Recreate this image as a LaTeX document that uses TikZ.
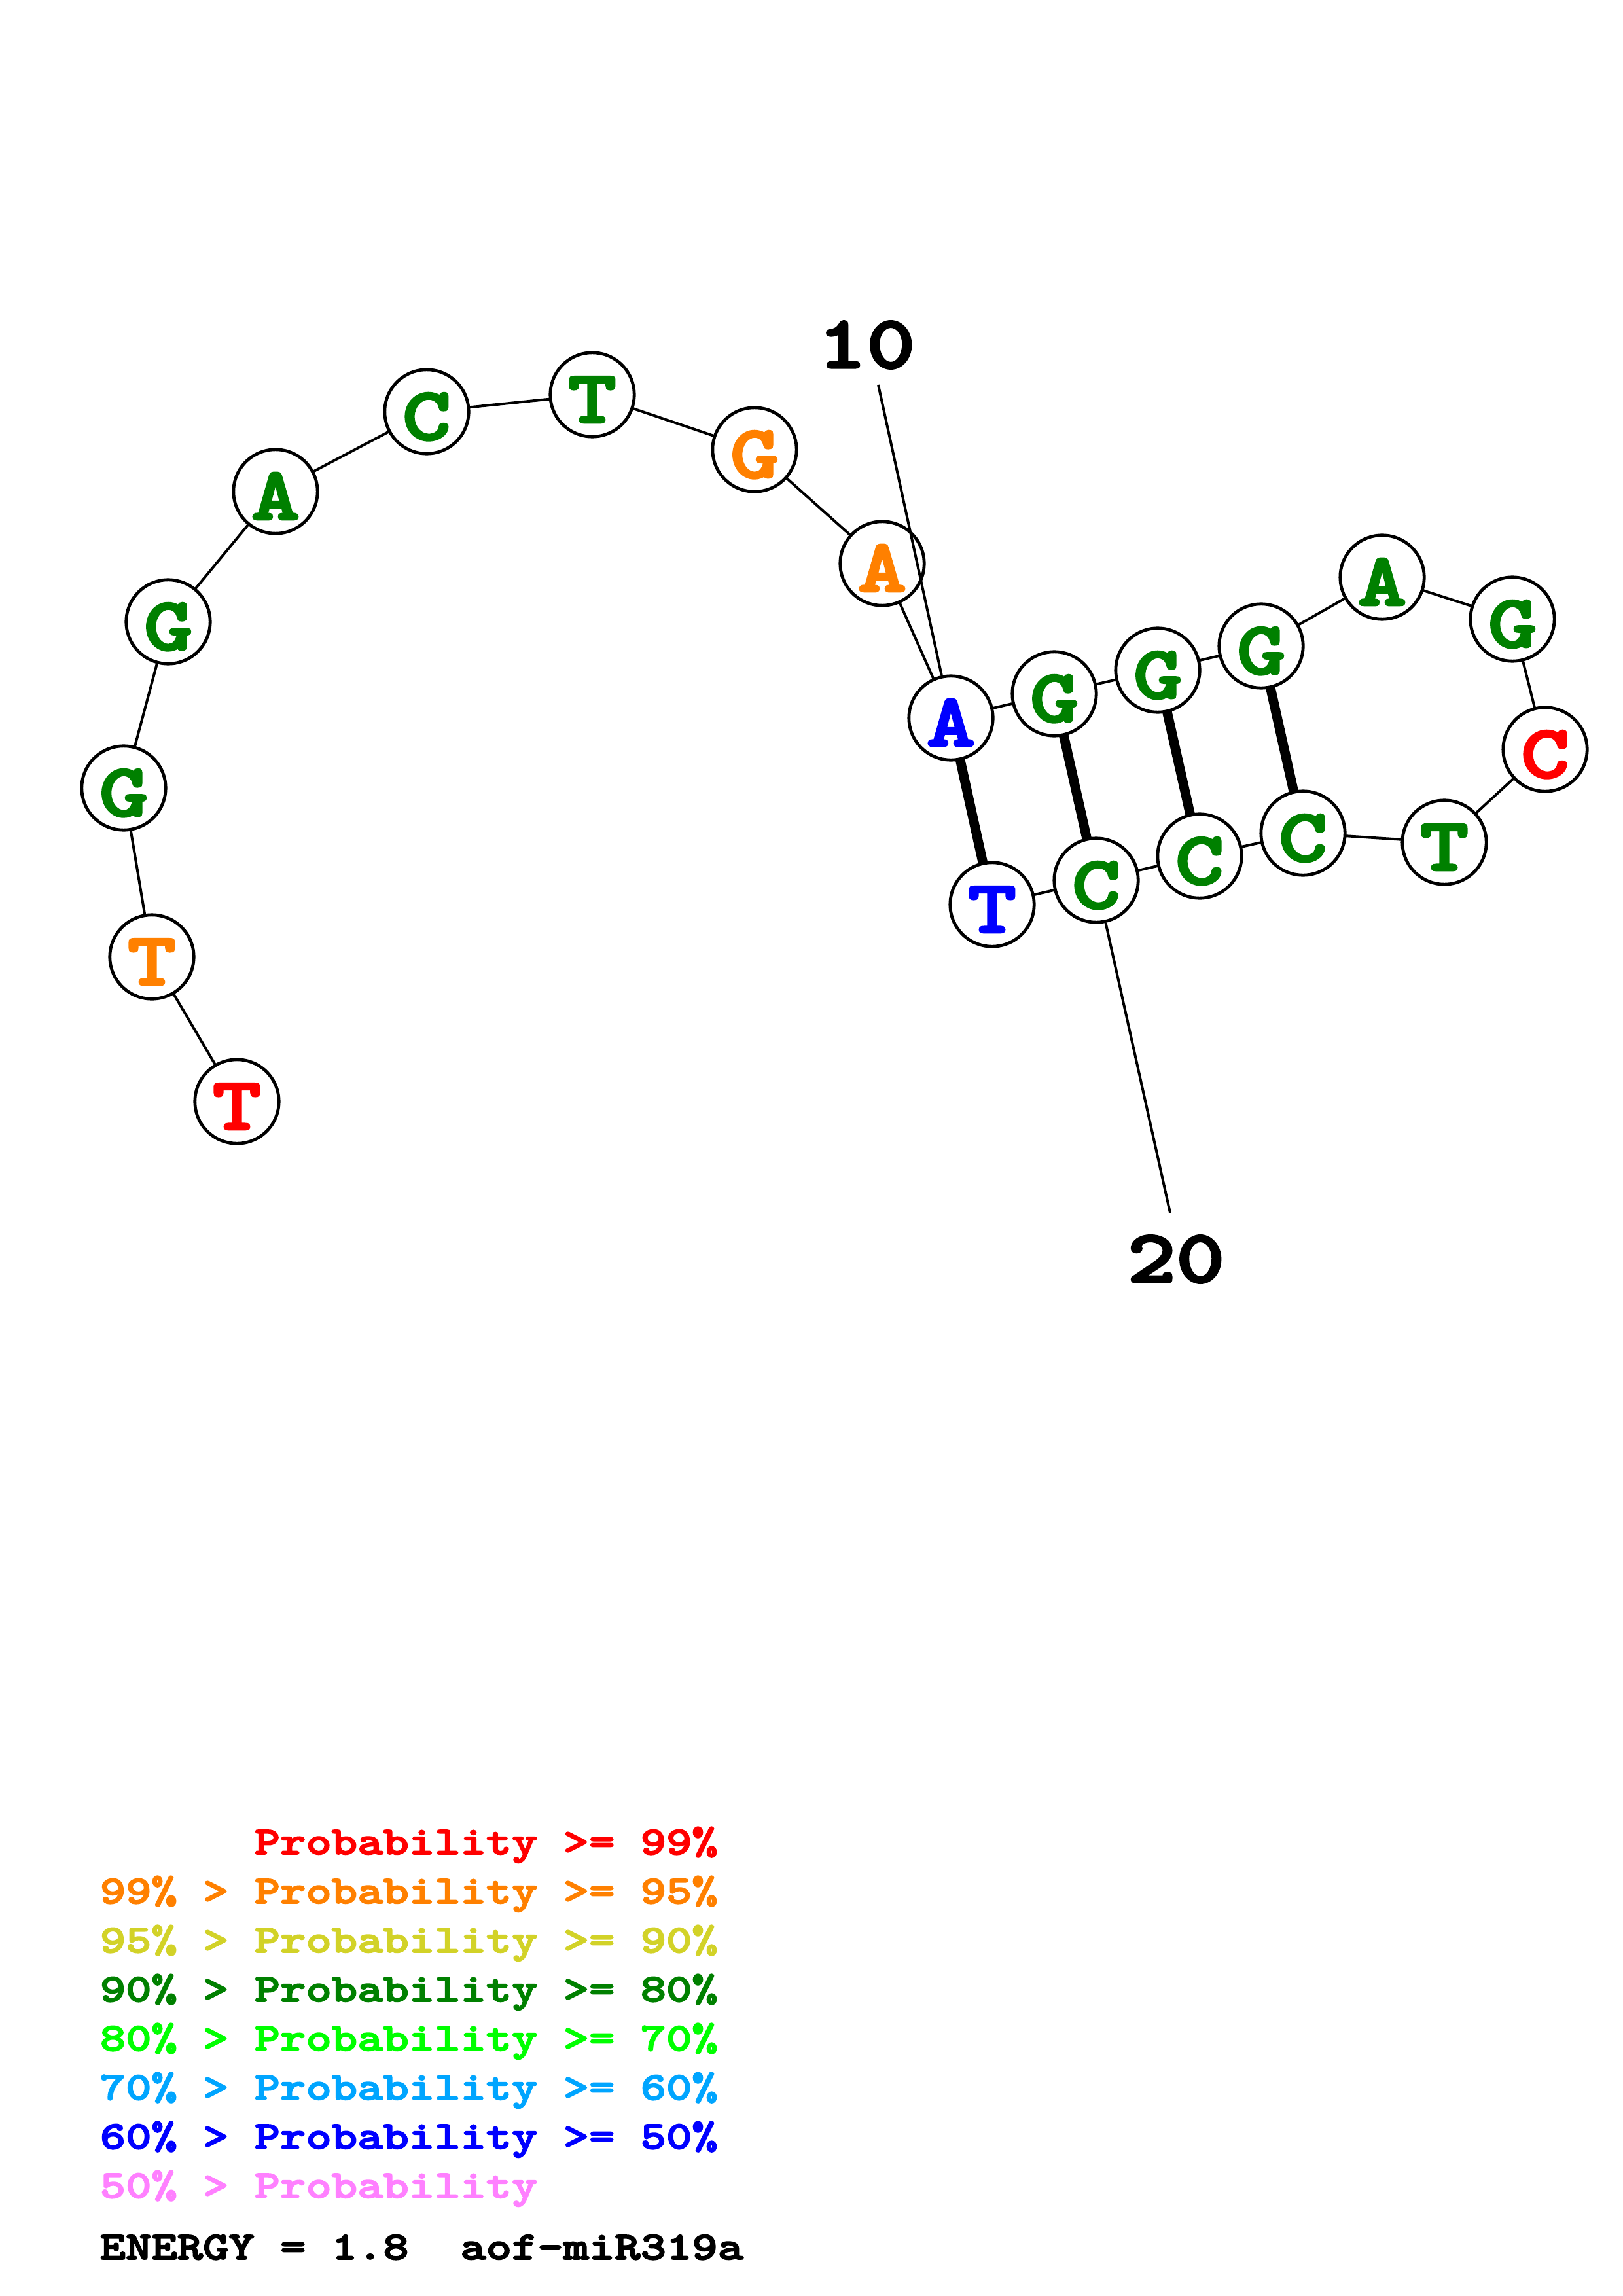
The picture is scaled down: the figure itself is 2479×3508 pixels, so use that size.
\documentclass[tikz,border=0pt]{standalone}
\usepackage{fontspec}
\newfontfamily\cour{lmmonolt10-bold}[Extension=.otf,FakeStretch=1.24,FakeBold=3]
\definecolor{pr}{RGB}{255,0,0}
\definecolor{po}{RGB}{255,128,0}
\definecolor{py}{RGB}{210,210,40}
\definecolor{pg}{RGB}{0,128,0}
\definecolor{plg}{RGB}{0,255,0}
\definecolor{psb}{RGB}{0,165,255}
\definecolor{pb}{RGB}{0,0,255}
\definecolor{pp}{RGB}{255,128,255}
\tikzset{
  base/.style={circle,draw=black,line width=1.15pt,fill=white,minimum size=30.8pt,inner sep=0pt,text height=20.5pt,text depth=0pt,font=\cour\fontsize{27.5}{27.5}\selectfont},
  bb/.style={line width=0.95pt},
  bond/.style={line width=3.5pt},
  numlab/.style={font=\cour\fontsize{27.5}{27.5}\selectfont,inner sep=0pt},
  leg/.style={font=\cour\fontsize{14.5}{15}\selectfont,inner sep=0pt,anchor=base west}
}
\begin{document}
\begin{tikzpicture}[x=0.24pt,y=-0.24pt]
\useasboundingbox (0,0) rectangle (2479,3508);
% coordinates
\coordinate (p1) at (362,1683);
\coordinate (p2) at (232,1462);
\coordinate (p3) at (189,1204);
\coordinate (p4) at (257,950);
\coordinate (p5) at (421,751);
\coordinate (p6) at (652,629);
\coordinate (p7) at (905,603);
\coordinate (p8) at (1153,687);
\coordinate (p9) at (1348,861);
\coordinate (p10) at (1453,1097);
\coordinate (p11) at (1611,1060);
\coordinate (p12) at (1769,1024);
\coordinate (p13) at (1927,987);
\coordinate (p14) at (2112,882);
\coordinate (p15) at (2311,946);
\coordinate (p16) at (2361,1145);
\coordinate (p17) at (2207,1287);
\coordinate (p18) at (1991,1273);
\coordinate (p19) at (1833,1308);
\coordinate (p20) at (1675,1345);
\coordinate (p21) at (1516,1382);
% backbone
\draw[bb] (p1)--(p2)--(p3)--(p4)--(p5)--(p6)--(p7)--(p8)--(p9)--(p10)--(p11)--(p12)--(p13)--(p14)--(p15)--(p16)--(p17)--(p18)--(p19)--(p20)--(p21);
% pairs
\draw[bond] (p10)--(p21);
\draw[bond] (p11)--(p20);
\draw[bond] (p12)--(p19);
\draw[bond] (p13)--(p18);
% nodes
\node[base,text=pr] (n1) at (p1) {T};
\node[base,text=po] (n2) at (p2) {T};
\node[base,text=pg] (n3) at (p3) {G};
\node[base,text=pg] (n4) at (p4) {G};
\node[base,text=pg] (n5) at (p5) {A};
\node[base,text=pg] (n6) at (p6) {C};
\node[base,text=pg] (n7) at (p7) {T};
\node[base,text=po] (n8) at (p8) {G};
\node[base,text=po] (n9) at (p9) {A};
\node[base,text=pb] (n10) at (p10) {A};
\node[base,text=pg] (n11) at (p11) {G};
\node[base,text=pg] (n12) at (p12) {G};
\node[base,text=pg] (n13) at (p13) {G};
\node[base,text=pg] (n14) at (p14) {A};
\node[base,text=pg] (n15) at (p15) {G};
\node[base,text=pr] (n16) at (p16) {C};
\node[base,text=pg] (n17) at (p17) {T};
\node[base,text=pg] (n18) at (p18) {C};
\node[base,text=pg] (n19) at (p19) {C};
\node[base,text=pg] (n20) at (p20) {C};
\node[base,text=pb] (n21) at (p21) {T};
% number labels
\node[numlab] (l10) at (1324,527) {10};
\coordinate (e10) at (1342,588);
\draw[bb] (e10)--(n10);
\node[numlab] (l20) at (1797,1924) {20};
\coordinate (e20) at (1788,1853);
\draw[bb] (n20)--(e20);
% legend
\node[leg,text=pr] (r1b) at (388,2833) {Probability >= 99\%};
\node[leg,text=po] (r2a) at (152,2908) {99\% >};
\node[leg,text=po] (r2b) at (388,2908) {Probability >= 95\%};
\node[leg,text=py] (r3a) at (152,2983) {95\% >};
\node[leg,text=py] (r3b) at (388,2983) {Probability >= 90\%};
\node[leg,text=pg] (r4a) at (152,3058) {90\% >};
\node[leg,text=pg] (r4b) at (388,3058) {Probability >= 80\%};
\node[leg,text=plg] (r5a) at (152,3133) {80\% >};
\node[leg,text=plg] (r5b) at (388,3133) {Probability >= 70\%};
\node[leg,text=psb] (r6a) at (152,3208) {70\% >};
\node[leg,text=psb] (r6b) at (388,3208) {Probability >= 60\%};
\node[leg,text=pb] (r7a) at (152,3283) {60\% >};
\node[leg,text=pb] (r7b) at (388,3283) {Probability >= 50\%};
\node[leg,text=pp] (r8a) at (152,3358) {50\% >};
\node[leg,text=pp] (r8b) at (388,3358) {Probability};
\node[leg,text=black] (en) at (152,3452) {ENERGY = 1.8\ \ aof-miR319a};
\end{tikzpicture}
\end{document}
